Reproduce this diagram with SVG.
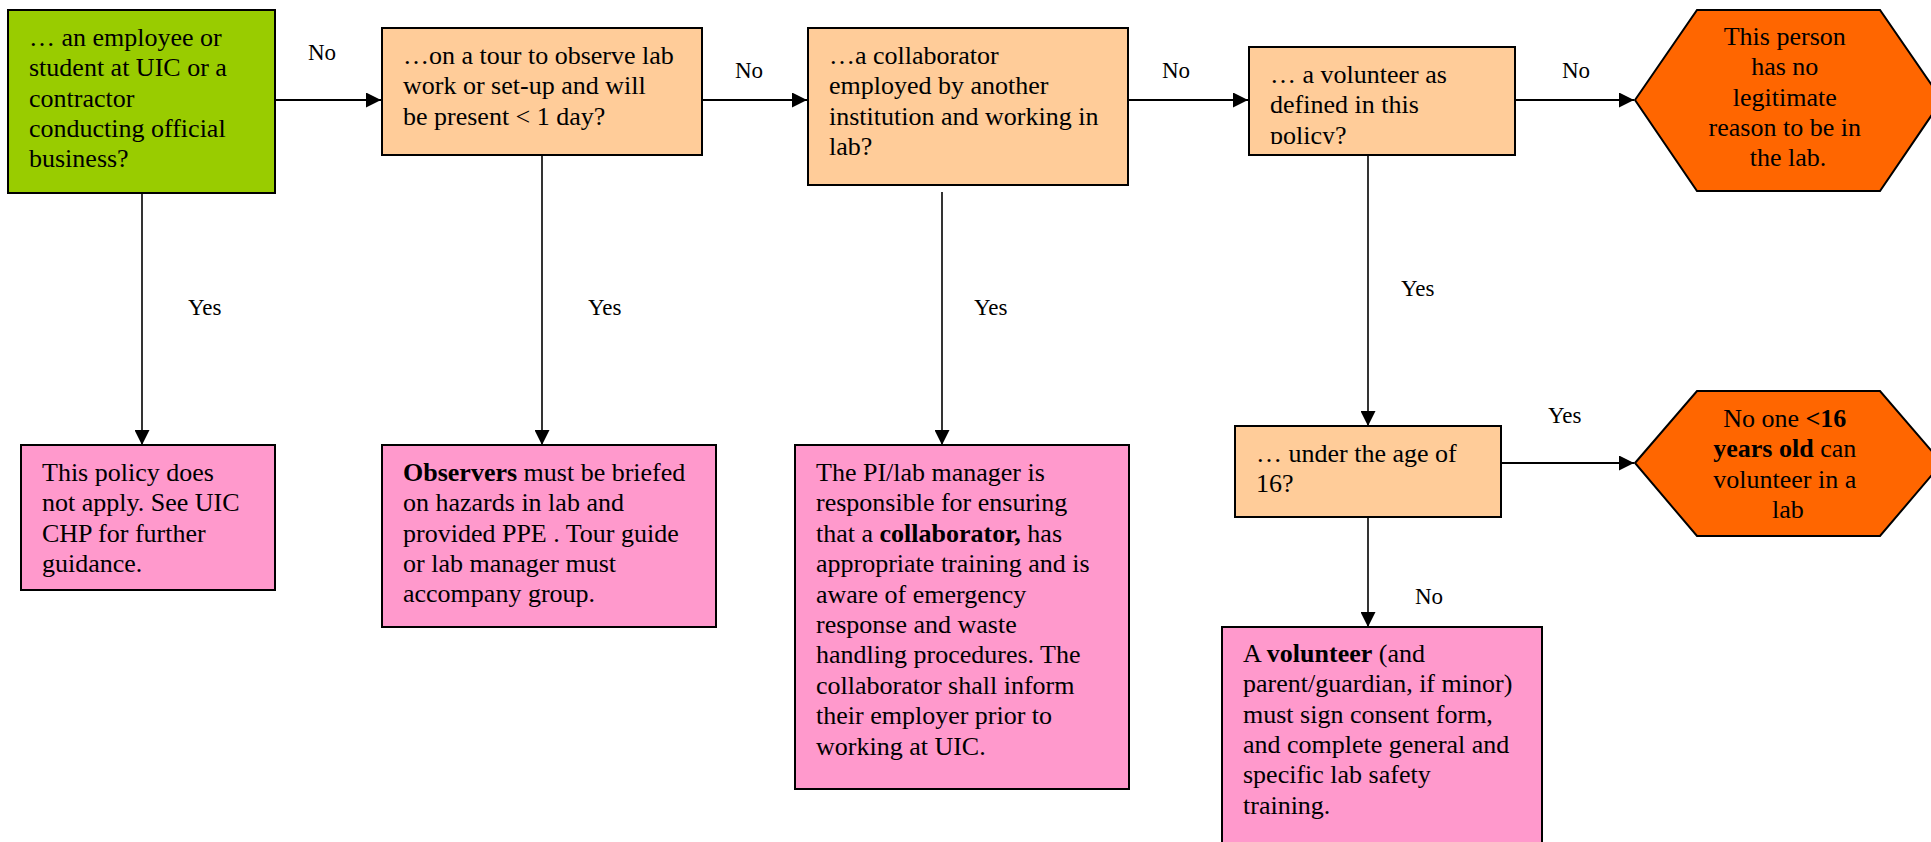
<svg xmlns="http://www.w3.org/2000/svg" width="1931" height="842" viewBox="0 0 1931 842">
<style>
  .box{stroke:#000;stroke-width:2}
  .q{fill:#FFCC99}
  .start{fill:#99CC00}
  .act{fill:#FF99CC}
  .stop{fill:#FF6600}
  text{font-family:"Liberation Serif","Times New Roman",serif;fill:#000}
  .t{font-size:26px}
  .c{text-anchor:middle}
  .lbl{font-size:23px}
  .b{font-weight:bold}
  .h{stroke:#000;stroke-width:2;fill:none}
  .v{stroke:#000;stroke-width:1.6;fill:none}
</style>
<defs>
  <marker id="ah" markerUnits="userSpaceOnUse" markerWidth="15" markerHeight="15" refX="15" refY="7.5" orient="auto">
    <path d="M0,0 L15,7.5 L0,15 z" fill="#000"/>
  </marker>
  <clipPath id="clip4"><rect x="1249" y="47" width="266" height="97"/></clipPath>
</defs>
<rect width="1931" height="842" fill="#fff"/>

<g id="connectors">
  <line class="h" x1="275" y1="100" x2="381" y2="100" marker-end="url(#ah)"/>
  <line class="h" x1="702" y1="100" x2="807" y2="100" marker-end="url(#ah)"/>
  <line class="h" x1="1128" y1="100" x2="1248" y2="100" marker-end="url(#ah)"/>
  <line class="h" x1="1515" y1="100" x2="1634" y2="100" marker-end="url(#ah)"/>
  <line class="v" x1="142" y1="193" x2="142" y2="445" marker-end="url(#ah)"/>
  <line class="v" x1="542" y1="155" x2="542" y2="445" marker-end="url(#ah)"/>
  <line class="v" x1="942" y1="192" x2="942" y2="445" marker-end="url(#ah)"/>
  <line class="v" x1="1368" y1="155" x2="1368" y2="426" marker-end="url(#ah)"/>
  <line class="v" x1="1368" y1="517" x2="1368" y2="627" marker-end="url(#ah)"/>
  <line class="h" x1="1501" y1="463" x2="1634" y2="463" marker-end="url(#ah)"/>
  <text class="lbl" x="308" y="60">No</text>
  <text class="lbl" x="735" y="78">No</text>
  <text class="lbl" x="1162" y="78">No</text>
  <text class="lbl" x="1562" y="78">No</text>
  <text class="lbl" x="188" y="315">Yes</text>
  <text class="lbl" x="588" y="315">Yes</text>
  <text class="lbl" x="974" y="315">Yes</text>
  <text class="lbl" x="1401" y="296">Yes</text>
  <text class="lbl" x="1548" y="423">Yes</text>
  <text class="lbl" x="1415" y="604">No</text>
</g>

<g id="q-employee">
  <rect class="box start" x="8" y="10" width="267" height="183"/>
  <text class="t">
    <tspan x="29" y="46">… an employee or</tspan>
    <tspan x="29" y="76.3">student at UIC or a</tspan>
    <tspan x="29" y="106.6">contractor</tspan>
    <tspan x="29" y="136.9">conducting official</tspan>
    <tspan x="29" y="167.2">business?</tspan>
  </text>
</g>

<g id="q-tour">
  <rect class="box q" x="382" y="28" width="320" height="127"/>
  <text class="t">
    <tspan x="403" y="64">…on a tour to observe lab</tspan>
    <tspan x="403" y="94.3">work or set-up and will</tspan>
    <tspan x="403" y="124.6">be present &lt; 1 day?</tspan>
  </text>
</g>

<g id="q-collaborator">
  <rect class="box q" x="808" y="28" width="320" height="157"/>
  <text class="t">
    <tspan x="829" y="64">…a collaborator</tspan>
    <tspan x="829" y="94.3">employed by another</tspan>
    <tspan x="829" y="124.6">institution and working in</tspan>
    <tspan x="829" y="154.9">lab?</tspan>
  </text>
</g>

<g id="q-volunteer">
  <rect class="box q" x="1249" y="47" width="266" height="108"/>
  <text class="t" clip-path="url(#clip4)">
    <tspan x="1270" y="83">… a volunteer as</tspan>
    <tspan x="1270" y="113.3">defined in this</tspan>
    <tspan x="1270" y="143.6">policy?</tspan>
  </text>
</g>

<g id="end-no-reason">
  <polygon class="box stop" points="1635,100 1697,10 1880,10 1942,100 1880,191 1697,191"/>
  <text class="t c">
    <tspan x="1788" y="45">This person</tspan>
    <tspan x="1788" y="75.3">has no</tspan>
    <tspan x="1788" y="105.6">legitimate</tspan>
    <tspan x="1788" y="135.9">reason to be in</tspan>
    <tspan x="1788" y="166.2">the lab.</tspan>
  </text>
</g>

<g id="a-not-apply">
  <rect class="box act" x="21" y="445" width="254" height="145"/>
  <text class="t">
    <tspan x="42" y="481">This policy does</tspan>
    <tspan x="42" y="511.3">not apply. See UIC</tspan>
    <tspan x="42" y="541.6">CHP for further</tspan>
    <tspan x="42" y="571.9">guidance.</tspan>
  </text>
</g>

<g id="a-observers">
  <rect class="box act" x="382" y="445" width="334" height="182"/>
  <text class="t">
    <tspan x="403" y="481"><tspan class="b">Observers</tspan> must be briefed</tspan>
    <tspan x="403" y="511.3">on hazards in lab and</tspan>
    <tspan x="403" y="541.6">provided PPE . Tour guide</tspan>
    <tspan x="403" y="571.9">or lab manager must</tspan>
    <tspan x="403" y="602.2">accompany group.</tspan>
  </text>
</g>

<g id="a-collaborator">
  <rect class="box act" x="795" y="445" width="334" height="344"/>
  <text class="t">
    <tspan x="816" y="481">The PI/lab manager is</tspan>
    <tspan x="816" y="511.4">responsible for ensuring</tspan>
    <tspan x="816" y="541.8">that a <tspan class="b">collaborator,</tspan> has</tspan>
    <tspan x="816" y="572.2">appropriate training and is</tspan>
    <tspan x="816" y="602.6">aware of emergency</tspan>
    <tspan x="816" y="633">response and waste</tspan>
    <tspan x="816" y="663.4">handling procedures. The</tspan>
    <tspan x="816" y="693.8">collaborator shall inform</tspan>
    <tspan x="816" y="724.2">their employer prior to</tspan>
    <tspan x="816" y="754.6">working at UIC.</tspan>
  </text>
</g>

<g id="q-under16">
  <rect class="box q" x="1235" y="426" width="266" height="91"/>
  <text class="t">
    <tspan x="1256" y="462">… under the age of</tspan>
    <tspan x="1256" y="492.3">16?</tspan>
  </text>
</g>

<g id="end-under16">
  <polygon class="box stop" points="1635,463 1697,391 1880,391 1942,463 1880,536 1697,536"/>
  <text class="t c">
    <tspan x="1788" y="427">No one <tspan class="b">&lt;16</tspan></tspan>
    <tspan x="1788" y="457.3"><tspan class="b">years old</tspan> can</tspan>
    <tspan x="1788" y="487.6">volunteer in a</tspan>
    <tspan x="1788" y="517.9">lab</tspan>
  </text>
</g>

<g id="a-volunteer">
  <rect class="box act" x="1222" y="627" width="320" height="240"/>
  <text class="t">
    <tspan x="1243" y="662"><tspan>A </tspan><tspan class="b">volunteer</tspan> (and</tspan>
    <tspan x="1243" y="692.3">parent/guardian, if minor)</tspan>
    <tspan x="1243" y="722.6">must sign consent form,</tspan>
    <tspan x="1243" y="752.9">and complete general and</tspan>
    <tspan x="1243" y="783.2">specific lab safety</tspan>
    <tspan x="1243" y="813.5">training.</tspan>
  </text>
</g>
</svg>
